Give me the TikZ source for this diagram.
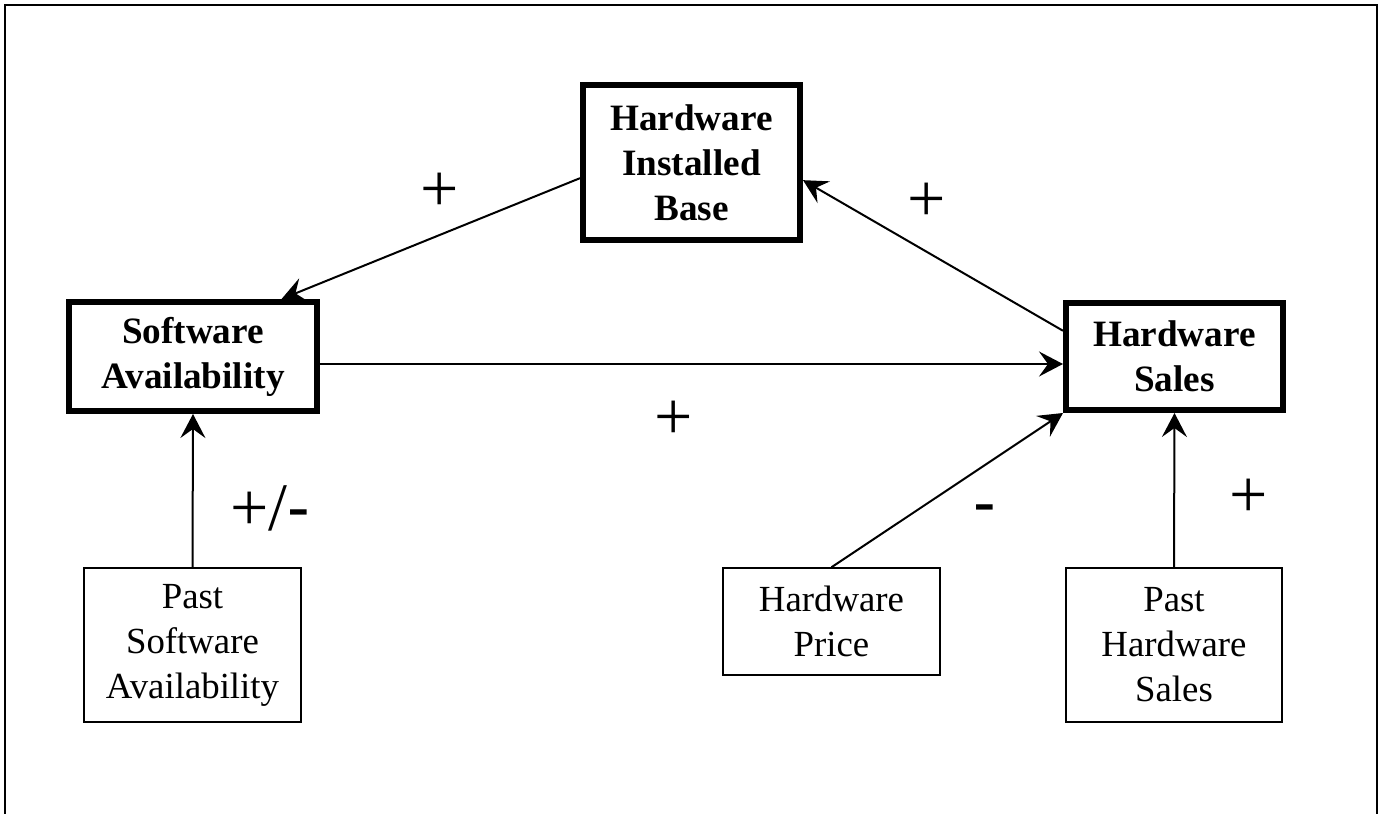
\documentclass[tikz,border=0pt]{standalone}
\usepackage{fontspec}
\setmainfont{Liberation Serif}
\newfontfamily\labelfont{Liberation Sans}
\usetikzlibrary{arrows.meta}
\begin{document}
\begin{tikzpicture}[x=0.5pt,y=-0.5pt,
  mainbox/.style={draw, line width=3pt, font=\fontsize{18.6}{22.5}\selectfont\bfseries, align=center, inner sep=0pt},
  subbox/.style={draw, line width=0.75pt, font=\fontsize{18.4}{22.5}\selectfont, align=center, inner sep=0pt},
  link/.style={-{Stealth[length=12pt,width=12.5pt,inset=4.5pt]}, line width=1pt},
  sign/.style={font=\fontsize{34}{40}\selectfont, inner sep=0pt},
  frame/.style={line width=1pt}]
\useasboundingbox (0,0) rectangle (1383,814);
% outer frame (open at the bottom)
\coordinate (f1) at (5,814);
\coordinate (f2) at (5,5);
\coordinate (f3) at (1377,5);
\coordinate (f4) at (1377,814);
\draw[frame] (f1) -- (f2) -- (f3) -- (f4);

% main nodes
\node[mainbox, minimum width=108.5pt, minimum height=77.5pt] (hib) at (691.5,162.5) {Hardware\\Installed\\Base};
\node[mainbox, minimum width=124pt, minimum height=54.5pt] (sa) at (193,356.5) {Software\\Availability};
\node[mainbox, minimum width=108.5pt, minimum height=53.5pt] (hs) at (1174.5,356.5) {Hardware\\Sales};

% input nodes
\node[subbox, minimum width=108.5pt, minimum height=77pt] (psa) at (192.5,645) {Past\\Software\\Availability};
\node[subbox, minimum width=108.5pt, minimum height=53.5pt] (hp) at (831.5,621.5) {Hardware\\Price};
\node[subbox, minimum width=108pt, minimum height=77pt] (phs) at (1174,645) {Past\\Hardware\\Sales};

% connectors
\draw[link] (hib.188) -- (sa.33.5);
\draw[link] (hs.167.6) -- (hib.-9);
\draw[link] ([yshift=-3.75pt]sa.east) -- ([yshift=-3.75pt]hs.west);
\draw[link] (psa.north) -- (sa.south);
\draw[link] (hp.north) -- (hs.south west);
\draw[link] (phs.north) -- (hs.south);

% signs
\node[sign] (s1) at (440,192) {+};
\node[sign] (s2) at (927,202) {+};
\node[sign] (s3) at (674,420) {+};
\node[sign] (s4) at (270,508) {+/{\labelfont -}};
\node[sign] (s5) at (985,515) {\labelfont -};
\node[sign] (s6) at (1249,498) {+};
\end{tikzpicture}
\end{document}
